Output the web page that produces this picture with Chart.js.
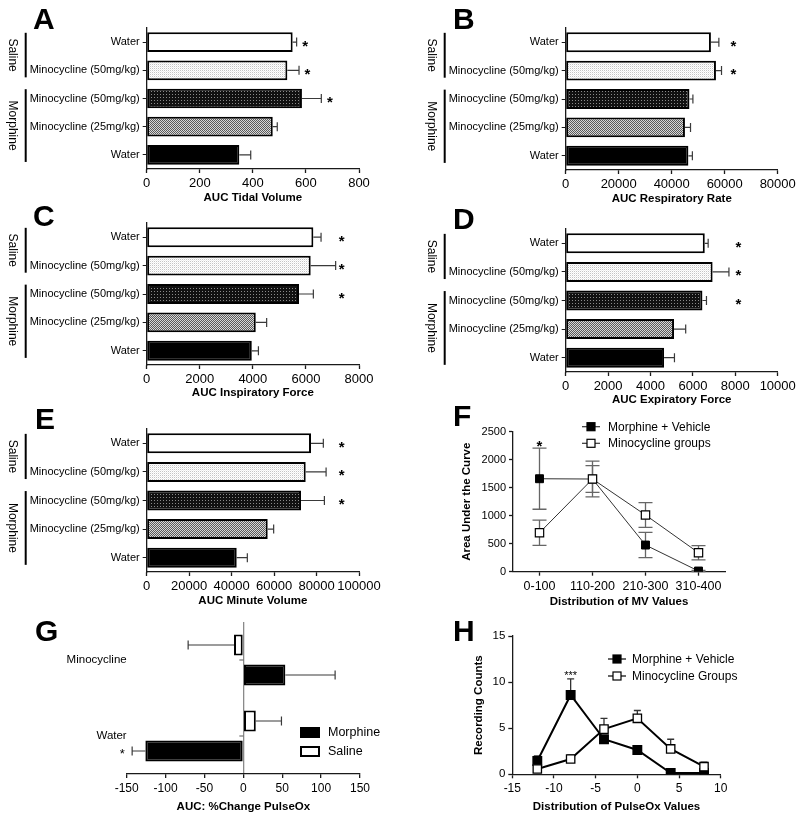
<!DOCTYPE html>
<html>
<head>
<meta charset="utf-8">
<script src="https://cdn.jsdelivr.net/npm/chart.js@4.4.1/dist/chart.umd.min.js"></script>
<style>
  html, body { margin: 0; padding: 0; background: #fff; }
  #fig { position: relative; width: 800px; height: 819px; overflow: hidden; }
  #fig canvas { position: absolute; }
  .tag { position: absolute; font: bold 30px 'Liberation Sans', Arial, sans-serif; line-height: 30px; color: #000; }
</style>
</head>
<body>
<div id="fig">
  <canvas id="cA"></canvas><canvas id="cB"></canvas>
  <canvas id="cC"></canvas><canvas id="cD"></canvas>
  <canvas id="cE"></canvas><canvas id="cF"></canvas>
  <canvas id="cG"></canvas><canvas id="cH"></canvas>
  <div class="tag" style="left:33px;top:4px">A</div>
  <div class="tag" style="left:453px;top:4px">B</div>
  <div class="tag" style="left:33px;top:201px">C</div>
  <div class="tag" style="left:453px;top:204px">D</div>
  <div class="tag" style="left:35px;top:404px">E</div>
  <div class="tag" style="left:453px;top:401px">F</div>
  <div class="tag" style="left:35px;top:616px">G</div>
  <div class="tag" style="left:453px;top:616px">H</div>
</div>
<script>
// ---- data ----
const barLabels = ['Water', 'Minocycline (50mg/kg)', 'Minocycline (50mg/kg)', 'Minocycline (25mg/kg)', 'Water'];
const groupNames = ['Saline', 'Morphine'];
const groupSpans = [[0, 1], [2, 4]];

const tidalVolume    = [550, 530, 585, 475, 349];
const tidalVolumeErr = [15, 44, 73, 17, 43];
const tidalVolumeSig = ['*', '*', '*', '', ''];

const respRate    = [54800, 56700, 46700, 45000, 46300];
const respRateErr = [3000, 2100, 1300, 2100, 1500];
const respRateSig = ['*', '*', '', '', ''];

const inspForce    = [6280, 6180, 5740, 4110, 3960];
const inspForceErr = [290, 940, 540, 410, 250];
const inspForceSig = ['*', '*', '*', '', ''];

const expForce    = [6560, 6930, 6450, 5110, 4640];
const expForceErr = [160, 770, 190, 550, 490];
const expForceSig = ['*', '*', '*', '', ''];

const minuteVol    = [77400, 74900, 72700, 57000, 42400];
const minuteVolErr = [5800, 9600, 11000, 2800, 5000];
const minuteVolSig = ['*', '*', '*', '', ''];

const mvBins        = ['0-100', '110-200', '210-300', '310-400'];
const mvMorphine    = [1660, 1655, 476, 12];
const mvMorphineErr = [545, 240, 225, 10];
const mvMino        = [696, 1655, 1012, 339];
const mvMinoErr     = [226, 320, 220, 128];
const mvSig         = ['*', '', '', ''];

const poxGroups      = ['Minocycline', 'Water'];
const poxSaline      = [-12, 16];
const poxSalineErr   = [59, 33];
const poxMorphine    = [54, -126];
const poxMorphineErr = [64, 17];
const poxSig         = ['', '*'];

const poxBins        = [-12, -8, -4, 0, 4, 8];
const poxCntMorph    = [1.45, 8.6, 3.8, 2.64, 0.14, 0.14];
const poxCntMorphErr = [0.55, 1.75, 0.3, 0.45, 0, 0];
const poxCntMino     = [0.58, 1.66, 4.9, 6.07, 2.75, 0.83];
const poxCntMinoErr  = [0.35, 0.45, 1.17, 0.85, 1.05, 0.5];
const poxCntSig      = ['', '***', '', '', '', ''];

// ---- setup ----
const FONT = "'Liberation Sans', Arial, Helvetica, sans-serif";
Chart.defaults.font.family = FONT;
Chart.defaults.color = '#000';
Chart.defaults.animation = false;
Chart.defaults.plugins.legend.display = false;
Chart.defaults.plugins.tooltip.enabled = false;

const AXIS = '#1a1a1a';
const TITLE_LH = 11.5 * 1.2;

function frame(rect, area, xTitleY, yTitleX) {
  const padLeft = yTitleX ? yTitleX - rect.x - TITLE_LH / 2 : 0;
  return {
    padding: { left: padLeft, top: area.t - rect.y, right: rect.x + rect.w - area.r, bottom: rect.y + rect.h - xTitleY - TITLE_LH / 2 },
    yWidth: area.l - rect.x - padLeft,
    xHeight: xTitleY + TITLE_LH / 2 - area.b
  };
}

function makeCanvas(id, rect) {
  const c = document.getElementById(id);
  c.width = rect.w; c.height = rect.h;
  c.style.left = rect.x + 'px'; c.style.top = rect.y + 'px';
  return c;
}

function pattern(cells, size) {
  const c = document.createElement('canvas');
  c.width = c.height = size;
  const g = c.getContext('2d');
  cells.forEach(([x, y, col]) => { g.fillStyle = col; g.fillRect(x, y, 1, 1); });
  return g.createPattern(c, 'repeat');
}
const fillLight = pattern([[0,0,'#c4c4c4'],[1,0,'#fff'],[0,1,'#fff'],[1,1,'#ececec']], 2);
const fillDark = pattern([[0,0,'#111'],[1,0,'#111'],[2,0,'#111'],[0,1,'#111'],[1,1,'#8a8a8a'],[2,1,'#111'],[0,2,'#111'],[1,2,'#111'],[2,2,'#111']], 3);
const fillMid = pattern([[0,0,'#5a5a5a'],[1,0,'#d8d8d8'],[0,1,'#d8d8d8'],[1,1,'#5a5a5a']], 2);
const barFills = ['#fff', fillLight, fillDark, fillMid, '#000'];

function titleOpt(text) {
  return { display: true, text, font: { size: 11.5, weight: 'bold', lineHeight: 1.2 }, padding: 0, color: '#000' };
}

function linearAxis(fr, min, max, step, title, size, horiz) {
  return {
    type: 'linear', min, max,
    border: { color: AXIS, width: 1.3 },
    grid: { display: true, drawOnChartArea: false, drawTicks: true, tickLength: 4, tickColor: AXIS, tickWidth: 1.3 },
    ticks: { stepSize: step, padding: 3, font: { size }, callback: v => String(v), maxRotation: 0, autoSkip: false },
    title: titleOpt(title),
    afterFit: horiz ? (s => { s.height = fr.xHeight; }) : (s => { s.width = fr.yWidth; })
  };
}

// ---- drawing helpers ----
function drawErrors(chart) {
  const ctx = chart.ctx;
  const horiz = chart.options.indexAxis === 'y';
  const vScale = horiz ? chart.scales.x : chart.scales.y;
  chart.data.datasets.forEach((ds, di) => {
    if (!ds.errors) return;
    const meta = chart.getDatasetMeta(di);
    ctx.save();
    ctx.strokeStyle = ds.errorColor || '#444';
    ctx.lineWidth = ds.errorWidth || 1.2;
    meta.data.forEach((el, i) => {
      const e = ds.errors[i];
      if (!e) return;
      const d = ds.data[i];
      const raw = typeof d === 'object' ? d.y : d;
      const sign = raw < 0 ? -1 : 1;
      const cap = ds.errorCap || 4;
      const ends = ds.errorBoth ? [raw + e, raw - e] : [raw + sign * e];
      ends.forEach(v => {
        const p = vScale.getPixelForValue(v);
        ctx.beginPath();
        if (horiz) {
          ctx.moveTo(el.x, el.y); ctx.lineTo(p, el.y);
          ctx.moveTo(p, el.y - cap); ctx.lineTo(p, el.y + cap);
        } else {
          ctx.moveTo(el.x, el.y); ctx.lineTo(el.x, p);
          ctx.moveTo(el.x - cap, p); ctx.lineTo(el.x + cap, p);
        }
        ctx.stroke();
      });
    });
    ctx.restore();
  });
}

function starAt(ctx, s, x, y, size, bold) {
  ctx.font = `${bold ? 'bold ' : ''}${size}px ${FONT}`;
  ctx.textAlign = 'center';
  ctx.textBaseline = 'alphabetic';
  ctx.fillStyle = '#000';
  ctx.fillText(s, x, y + 0.57 * size);
}

const marks = {
  id: 'marks',
  beforeDatasetsDraw(chart) { drawErrors(chart); },
  afterDatasetsDraw(chart, args, o) {
    const ctx = chart.ctx, a = chart.chartArea;
    ctx.save();
    if (o.groups) {
      const ys = chart.scales.y;
      const step = ys.getPixelForValue(1) - ys.getPixelForValue(0);
      groupSpans.forEach(([s, e], gi) => {
        const y0 = ys.getPixelForValue(s) - 0.33 * step;
        const y1 = ys.getPixelForValue(e) + 0.25 * step;
        ctx.strokeStyle = '#000'; ctx.lineWidth = 2;
        ctx.beginPath(); ctx.moveTo(a.left - 121, y0); ctx.lineTo(a.left - 121, y1); ctx.stroke();
        ctx.save();
        ctx.translate(a.left - 134, (y0 + y1) / 2);
        ctx.rotate(Math.PI / 2);
        ctx.font = `12px ${FONT}`; ctx.fillStyle = '#000';
        ctx.textAlign = 'center'; ctx.textBaseline = 'middle';
        ctx.fillText(groupNames[gi], 0, 0);
        ctx.restore();
      });
    }
    if (o.stars) {
      const di = o.starSet || 0;
      const ds = chart.data.datasets[di];
      const meta = chart.getDatasetMeta(di);
      const horiz = chart.options.indexAxis === 'y';
      o.stars.forEach((s, i) => {
        if (!s) return;
        const el = meta.data[i];
        const d = ds.data[i];
        const raw = typeof d === 'object' ? d.y : d;
        if (horiz) {
          let x;
          if (o.starLeft) x = a.left - o.starLeft;
          else if (typeof o.starAt === 'number') x = chart.scales.x.getPixelForValue(o.starAt);
          else x = chart.scales.x.getPixelForValue(raw + ds.errors[i]) + o.starGap;
          starAt(ctx, s, x, el.y, o.starSize, o.starBold);
        } else {
          const y = chart.scales.y.getPixelForValue(raw + ds.errors[i]) - o.starGap;
          starAt(ctx, s, el.x, y, o.starSize, o.starBold);
        }
      });
    }
    if (o.zeroTicks) {
      const x0 = chart.scales.x.getPixelForValue(0);
      ctx.strokeStyle = '#555'; ctx.lineWidth = 1;
      chart.scales.y.ticks.forEach((t, i) => {
        const y = chart.scales.y.getPixelForTick(i);
        ctx.beginPath(); ctx.moveTo(x0 - 4, y); ctx.lineTo(x0, y); ctx.stroke();
      });
    }
    if (o.legend) {
      const L = o.legend;
      ctx.font = `${L.size}px ${FONT}`;
      ctx.textAlign = 'left'; ctx.textBaseline = 'middle';
      L.order.forEach((di, row) => {
        const ds = chart.data.datasets[di];
        const y = a.top + L.y + row * L.dy;
        const x = a.left + L.x;
        if (L.box) {
          ctx.fillStyle = ds.backgroundColor;
          ctx.fillRect(x, y - 5.5, 20, 11);
          ctx.strokeStyle = '#000'; ctx.lineWidth = 2;
          ctx.strokeRect(x + 1, y - 4.5, 18, 9);
        } else {
          ctx.strokeStyle = ds.borderColor; ctx.lineWidth = 1.2;
          ctx.beginPath(); ctx.moveTo(x - L.half, y); ctx.lineTo(x + L.half, y); ctx.stroke();
          const h = 4;
          ctx.fillStyle = ds.pointBackgroundColor;
          ctx.fillRect(x - h, y - h, 2 * h, 2 * h);
          ctx.strokeStyle = '#000'; ctx.lineWidth = 1.2;
          ctx.strokeRect(x - h, y - h, 2 * h, 2 * h);
        }
        ctx.fillStyle = '#000';
        ctx.fillText(ds.label, a.left + L.textX, y + 0.5);
      });
    }
    ctx.restore();
  }
};

// ---- bar panels A-E ----
function barPanel(id, rect, area, xTitleY, values, errors, sig, title, max, step, opts) {
  const fr = frame(rect, area, xTitleY);
  const canvas = makeCanvas(id, rect);
  return new Chart(canvas, {
    type: 'bar',
    data: {
      labels: barLabels,
      datasets: [{
        data: values, errors, errorColor: '#3a3a3a', errorCap: 4.5,
        backgroundColor: barFills, borderColor: '#000', borderWidth: 2, borderSkipped: false,
        barPercentage: 0.7, categoryPercentage: 1
      }]
    },
    options: {
      indexAxis: 'y', responsive: false,
      layout: { padding: fr.padding },
      scales: {
        x: linearAxis(fr, 0, max, step, title, 13, true),
        y: {
          type: 'category',
          border: { color: AXIS, width: 1.3 },
          grid: { display: true, drawOnChartArea: false, offset: false, tickLength: 4, tickColor: AXIS },
          ticks: { font: { size: 11 }, padding: 3, autoSkip: false },
          afterFit: s => { s.width = fr.yWidth; }
        }
      },
      plugins: { marks: Object.assign({ groups: true, stars: sig, starSize: 15, starBold: true, starGap: 8.5 }, opts) }
    },
    plugins: [marks]
  });
}

barPanel('cA', { x: 0, y: 0, w: 400, h: 208 }, { l: 146.7, t: 28, r: 359, b: 169 }, 198,
  tidalVolume, tidalVolumeErr, tidalVolumeSig, 'AUC Tidal Volume', 800, 200, {});
barPanel('cB', { x: 400, y: 0, w: 400, h: 209 }, { l: 565.7, t: 28, r: 777.7, b: 170 }, 199,
  respRate, respRateErr, respRateSig, 'AUC Respiratory Rate', 80000, 20000, { starAt: 63300 });
barPanel('cC', { x: 0, y: 203, w: 400, h: 200 }, { l: 146.7, t: 223, r: 359, b: 365 }, 393,
  inspForce, inspForceErr, inspForceSig, 'AUC Inspiratory Force', 8000, 2000, { starAt: 7350 });
barPanel('cD', { x: 400, y: 203, w: 400, h: 207 }, { l: 565.7, t: 229, r: 777.7, b: 372 }, 400,
  expForce, expForceErr, expForceSig, 'AUC Expiratory Force', 10000, 2000, { starAt: 8150 });
barPanel('cE', { x: 0, y: 403, w: 400, h: 208 }, { l: 146.7, t: 429, r: 359, b: 572 }, 601,
  minuteVol, minuteVolErr, minuteVolSig, 'AUC Minute Volume', 100000, 20000, { starAt: 91800 });

// ---- F: MV distribution ----
(function () {
  const rect = { x: 400, y: 405, w: 400, h: 207 };
  const fr = frame(rect, { l: 513, t: 431.7, r: 725, b: 571.7 }, 602, 467);
  const xAxis = linearAxis(fr, 0, 0, 1, 'Distribution of MV Values', 12.5, true);
  delete xAxis.min; delete xAxis.max;
  delete xAxis.ticks.callback; delete xAxis.ticks.stepSize;
  xAxis.type = 'category'; xAxis.offset = true;
  xAxis.grid.offset = false;
  new Chart(makeCanvas('cF', rect), {
    type: 'line',
    data: {
      labels: mvBins,
      datasets: [
        { label: 'Morphine + Vehicle', data: mvMorphine, errors: mvMorphineErr, errorBoth: true, errorCap: 7, errorColor: '#666', errorWidth: 1.3,
          borderColor: '#333', borderWidth: 1, pointStyle: 'rect', pointRadius: 5.6, pointBackgroundColor: '#000', pointBorderColor: '#000', order: 2 },
        { label: 'Minocycline groups', data: mvMino, errors: mvMinoErr, errorBoth: true, errorCap: 7, errorColor: '#666', errorWidth: 1.3,
          borderColor: '#333', borderWidth: 1, pointStyle: 'rect', pointRadius: 5.9, pointBackgroundColor: '#fff', pointBorderColor: '#000', pointBorderWidth: 1.2, order: 1 }
      ]
    },
    options: {
      responsive: false,
      layout: { padding: fr.padding },
      scales: {
        x: xAxis,
        y: linearAxis(fr, 0, 2500, 500, 'Area Under the Curve', 11, false)
      },
      plugins: { marks: { stars: mvSig, starSet: 0, starSize: 15, starBold: true, starGap: 6,
        legend: { order: [0, 1], x: 78, y: -5, dy: 16.6, half: 9, textX: 95, size: 12 } } }
    },
    plugins: [marks]
  });
})();

// ---- G: PulseOx change ----
(function () {
  const rect = { x: 0, y: 605, w: 400, h: 212 };
  const fr = frame(rect, { l: 126.7, t: 622, r: 360, b: 774 }, 807);
  const xAxis = linearAxis(fr, -150, 150, 50, 'AUC: %Change PulseOx', 12, true);
  xAxis.grid.drawOnChartArea = true;
  xAxis.grid.color = c => (c.tick && c.tick.value === 0 ? '#8a8a8a' : 'rgba(0,0,0,0)');
  xAxis.grid.lineWidth = 1.3;
  new Chart(makeCanvas('cG', rect), {
    type: 'bar',
    data: {
      labels: poxGroups,
      datasets: [
        { label: 'Saline', data: poxSaline, errors: poxSalineErr, errorColor: '#3a3a3a', errorCap: 4.5,
          backgroundColor: '#fff', borderColor: '#000', borderWidth: 2, borderSkipped: false, barPercentage: 0.7, categoryPercentage: 0.79 },
        { label: 'Morphine', data: poxMorphine, errors: poxMorphineErr, errorColor: '#3a3a3a', errorCap: 4.5,
          backgroundColor: '#000', borderColor: '#000', borderWidth: 2, borderSkipped: false, barPercentage: 0.7, categoryPercentage: 0.79 }
      ]
    },
    options: {
      indexAxis: 'y', responsive: false,
      layout: { padding: fr.padding },
      scales: {
        x: xAxis,
        y: {
          type: 'category',
          border: { display: false },
          grid: { display: false, drawTicks: false },
          ticks: { font: { size: 11.5 }, padding: 0, autoSkip: false },
          afterFit: s => { s.width = fr.yWidth; }
        }
      },
      plugins: { marks: { stars: poxSig, starSet: 1, starLeft: 4.5, starSize: 13, zeroTicks: true,
        legend: { box: true, order: [1, 0], x: 173.3, y: 110.5, dy: 19, textX: 201.3, size: 12.5 } } }
    },
    plugins: [marks]
  });
})();

// ---- H: PulseOx distribution ----
(function () {
  const rect = { x: 400, y: 605, w: 400, h: 212 };
  const fr = frame(rect, { l: 512.3, t: 636, r: 720.7, b: 774.3 }, 807, 479);
  new Chart(makeCanvas('cH', rect), {
    type: 'line',
    data: {
      datasets: [
        { label: 'Morphine + Vehicle', data: poxBins.map((x, i) => ({ x, y: poxCntMorph[i] })), errors: poxCntMorphErr, errorCap: 3.5, errorColor: '#333', errorWidth: 1.3,
          borderColor: '#000', borderWidth: 2, pointStyle: 'rect', pointRadius: 5.6, pointBackgroundColor: '#000', pointBorderColor: '#000', order: 2 },
        { label: 'Minocycline Groups', data: poxBins.map((x, i) => ({ x, y: poxCntMino[i] })), errors: poxCntMinoErr, errorCap: 3.5, errorColor: '#333', errorWidth: 1.3,
          borderColor: '#000', borderWidth: 2, pointStyle: 'rect', pointRadius: 5.9, pointBackgroundColor: '#fff', pointBorderColor: '#000', pointBorderWidth: 1.3, order: 1 }
      ]
    },
    options: {
      responsive: false,
      layout: { padding: fr.padding },
      scales: {
        x: linearAxis(fr, -15, 10, 5, 'Distribution of PulseOx Values', 12, true),
        y: linearAxis(fr, 0, 15, 5, 'Recording Counts', 11.5, false)
      },
      plugins: { marks: { stars: poxCntSig, starSet: 0, starSize: 11, starGap: 6,
        legend: { order: [0, 1], x: 104.7, y: 23, dy: 17, half: 9, textX: 119.7, size: 12 } } }
    },
    plugins: [marks]
  });
})();
</script>
</body>
</html>
